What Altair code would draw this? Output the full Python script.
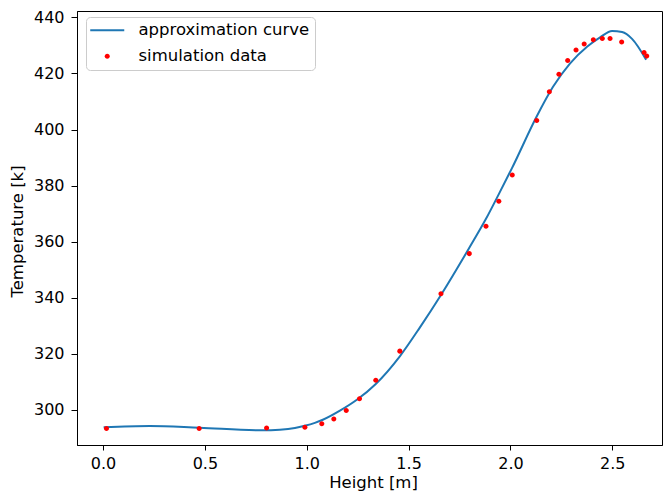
import altair as alt
import pandas as pd

# simulation data
sim_x = [0.017, 0.472, 0.803, 0.991, 1.074, 1.133, 1.194, 1.259, 1.339, 1.457,
         1.659, 1.798, 1.880, 1.943, 2.009, 2.129, 2.191, 2.238, 2.281, 2.322,
         2.362, 2.407, 2.451, 2.489, 2.546, 2.656, 2.669]
sim_y = [293.3, 293.3, 293.5, 293.75, 294.95, 296.7, 299.75, 303.9, 310.5, 320.9,
         341.4, 355.7, 365.5, 374.4, 383.75, 403.2, 413.5, 419.75, 424.6, 428.4,
         430.5, 432.0, 432.5, 432.5, 431.2, 427.5, 426.2]

# approximation curve samples
curve_x = [0.003, 0.229, 0.475, 0.780, 0.868, 0.942, 0.990, 1.040, 1.079, 1.163,
           1.246, 1.339, 1.457, 1.555, 1.659, 1.796, 1.880, 1.943, 2.007, 2.130,
           2.209, 2.292, 2.376, 2.440, 2.499, 2.548, 2.597, 2.666]
curve_y = [293.75, 294.18, 293.54, 292.66, 292.87, 293.47, 294.25, 295.31, 296.40, 299.65,
           303.53, 309.18, 319.06, 329.29, 340.94, 357.53, 368.12, 376.94, 386.12, 404.82,
           415.24, 423.53, 429.53, 432.88, 435.2, 434.8, 432.35, 424.94]

series_names = ["approximation curve", "simulation data"]
x_ticks = [0.0, 0.5, 1.0, 1.5, 2.0, 2.5]
y_ticks = [300, 320, 340, 360, 380, 400, 420, 440]

sim = pd.DataFrame({"h": sim_x, "t": sim_y, "series": series_names[1]})
curve = pd.DataFrame({"h": curve_x, "t": curve_y, "series": series_names[0]})

FONT = "DejaVu Sans"
LINE_PATH = "M-2.43,-0.143H2.43V0.143H-2.43Z"
DOT_PATH = "M-0.36,0A0.36,0.36 0 1,0 0.36,0A0.36,0.36 0 1,0 -0.36,0Z"

xscale = alt.Scale(domain=[-0.1277, 2.744], nice=False, zero=False)
yscale = alt.Scale(domain=[287.4, 442.3], nice=False, zero=False)

xaxis = alt.Axis(values=x_ticks, format=".1f", title="Height [m]", grid=False,
                 tickSize=5, labelPadding=5, titleX=296, titleY=37,
                 titleBaseline="middle", titleAlign="center")
yaxis = alt.Axis(values=y_ticks, format="d", title="Temperature [k]", grid=False,
                 tickSize=6, labelPadding=7, titleAngle=270, titleX=-60, titleY=220,
                 titleBaseline="middle", titleAlign="center")

line = alt.Chart(curve).mark_line(color="#1f77b4", strokeWidth=2, interpolate="monotone").encode(
    x=alt.X("h:Q", scale=xscale, axis=xaxis),
    y=alt.Y("t:Q", scale=yscale, axis=yaxis),
)

legend = alt.Legend(
    title=None, orient="none", legendX=9, legendY=6, padding=5, rowPadding=9,
    symbolOffset=8, labelOffset=23, symbolSize=196, labelFont=FONT, labelFontSize=16.5,
    labelColor="black", labelLimit=400, fillColor="rgba(255,255,255,0.8)",
    strokeColor="#cccccc", cornerRadius=4, symbolStrokeWidth=0, symbolOpacity=1,
)

points = alt.Chart(sim).mark_point(filled=True, size=196, opacity=1, strokeWidth=0).encode(
    x="h:Q",
    y="t:Q",
    color=alt.Color("series:N", scale=alt.Scale(domain=series_names, range=["#1f77b4", "red"]), legend=legend),
    shape=alt.Shape("series:N", scale=alt.Scale(domain=series_names, range=[LINE_PATH, DOT_PATH]), legend=legend),
)

chart = alt.layer(line, points).properties(
    width=585, height=434,
    padding={"left": 69, "top": 3, "right": 1, "bottom": 46},
    autosize=alt.AutoSizeParams(type="none"),
).configure_view(stroke="black", strokeWidth=1).configure_axis(
    domainColor="black", tickColor="black", labelColor="black", titleColor="black",
    labelFont=FONT, titleFont=FONT, labelFontSize=16, titleFontSize=16.5,
    titleFontWeight="normal", tickWidth=1, domainWidth=1,
)

chart.save("out.html", embed_options={"renderer": "svg", "actions": False})
